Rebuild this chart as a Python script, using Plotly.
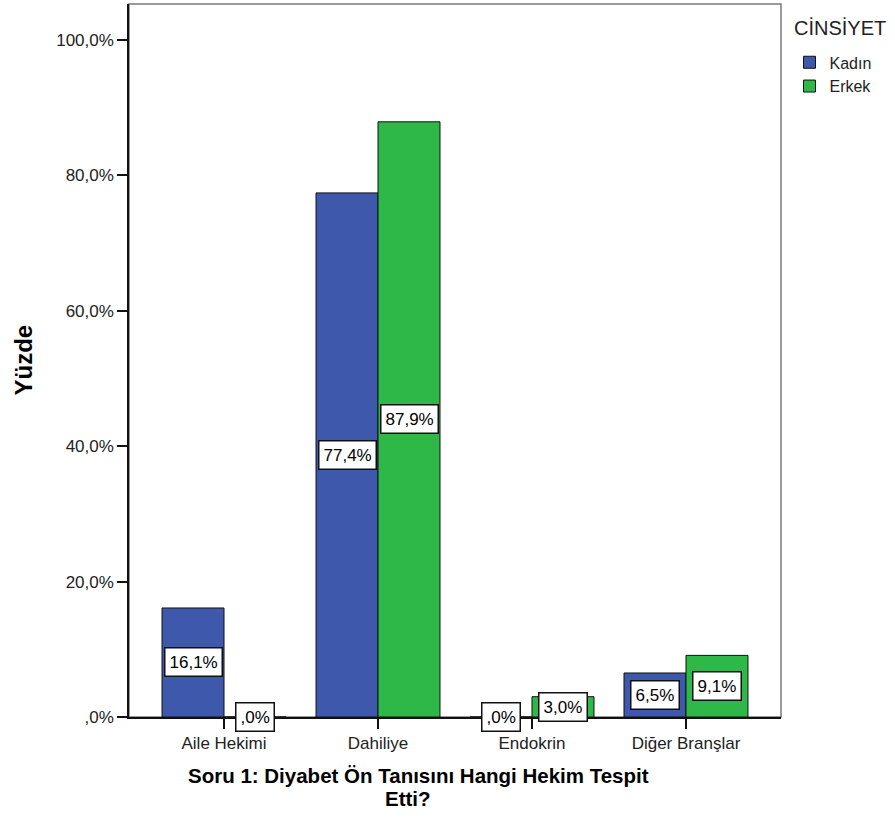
import plotly.graph_objects as go

categories = ["Aile Hekimi", "Dahiliye", "Endokrin", "Diğer Branşlar"]
kadin = [16.1, 77.4, 0.0, 6.5]
erkek = [0.0, 87.9, 3.0, 9.1]
kadin_labels = ["16,1%", "77,4%", ",0%", "6,5%"]
erkek_labels = [",0%", "87,9%", "3,0%", "9,1%"]
y_tickvals = [0, 20, 40, 60, 80, 100]
y_ticktext = [",0%", "20,0%", "40,0%", "60,0%", "80,0%", "100,0%"]

BLUE = "#3E58AC"
GREEN = "#2EB848"
FONT = "Liberation Sans, Arial, sans-serif"
BARGAP = 0.195

fig = go.Figure()
fig.add_trace(go.Bar(name="Kadın", x=categories, y=kadin,
                     marker=dict(color=BLUE, line=dict(color="#111111", width=1))))
fig.add_trace(go.Bar(name="Erkek", x=categories, y=erkek,
                     marker=dict(color=GREEN, line=dict(color="#111111", width=1))))

half = (1 - BARGAP) / 4
annotations = []
for i in range(len(categories)):
    for vals, labs, sign in ((kadin, kadin_labels, -1), (erkek, erkek_labels, 1)):
        annotations.append(dict(
            x=i + sign * half, y=vals[i] / 2, xref="x", yref="y",
            text=labs[i], showarrow=False,
            font=dict(family=FONT, size=17, color="#000000"),
            bgcolor="#FFFFFF", bordercolor="#111111", borderwidth=1.5, borderpad=4,
        ))

# x-axis title (two lines, tight spacing as in the reference)
annotations.append(dict(x=0.444, y=0, xref="paper", yref="paper", yshift=-58,
                        text="<b>Soru 1: Diyabet Ön Tanısını Hangi Hekim Tespit</b>",
                        showarrow=False, yanchor="middle", borderpad=0,
                        font=dict(family=FONT, size=20.5, color="#000000")))
annotations.append(dict(x=0.428, y=0, xref="paper", yref="paper", yshift=-81,
                        text="<b>Etti?</b>", showarrow=False, yanchor="middle", borderpad=0,
                        font=dict(family=FONT, size=20.5, color="#000000")))
# y-axis title
annotations.append(dict(x=0, y=0.5, xref="paper", yref="paper", xshift=-106,
                        text="<b>Yüzde</b>", showarrow=False, textangle=-90,
                        xanchor="center", yanchor="middle",
                        font=dict(family=FONT, size=24, color="#000000")))
# legend title
annotations.append(dict(x=1, y=1, xref="paper", yref="paper", xshift=11, yshift=-24,
                        text="CİNSİYET", showarrow=False,
                        xanchor="left", yanchor="middle",
                        font=dict(family=FONT, size=20, color="#222222")))

fig.update_layout(
    width=895, height=823,
    margin=dict(l=129, r=114, t=4, b=106),
    paper_bgcolor="#FFFFFF", plot_bgcolor="#FFFFFF",
    barmode="group", bargap=BARGAP, bargroupgap=0,
    font=dict(family=FONT, size=17, color="#222222"),
    annotations=annotations,
    shapes=[dict(type="rect", xref="paper", yref="paper", x0=0, y0=0, x1=1, y1=1,
                 line=dict(color="#7a7a7a", width=1.5), layer="below")],
    legend=dict(
        x=1.013, y=0.942, xanchor="left", yanchor="top",
        font=dict(family=FONT, size=16, color="#222222"),
        tracegroupgap=0, itemwidth=30, bgcolor="rgba(0,0,0,0)",
    ),
    xaxis=dict(
        type="category", range=[-0.617, 3.617],
        showline=True, linecolor="#111111", linewidth=1.5,
        ticks="outside", ticklen=10, tickcolor="#111111", tickwidth=1.5,
        showgrid=False, zeroline=False,
        tickfont=dict(family=FONT, size=17, color="#222222"),
    ),
    yaxis=dict(
        range=[0, 105.3], tickvals=y_tickvals, ticktext=y_ticktext,
        showline=True, linecolor="#111111", linewidth=1.5,
        ticks="outside", ticklen=10, tickcolor="#111111", tickwidth=1.5,
        showgrid=False, zeroline=False,
        tickfont=dict(family=FONT, size=17, color="#222222"),
    ),
)

fig.write_html("out.html", config={"displayModeBar": False},
               post_script="document.body.style.margin='0';")
